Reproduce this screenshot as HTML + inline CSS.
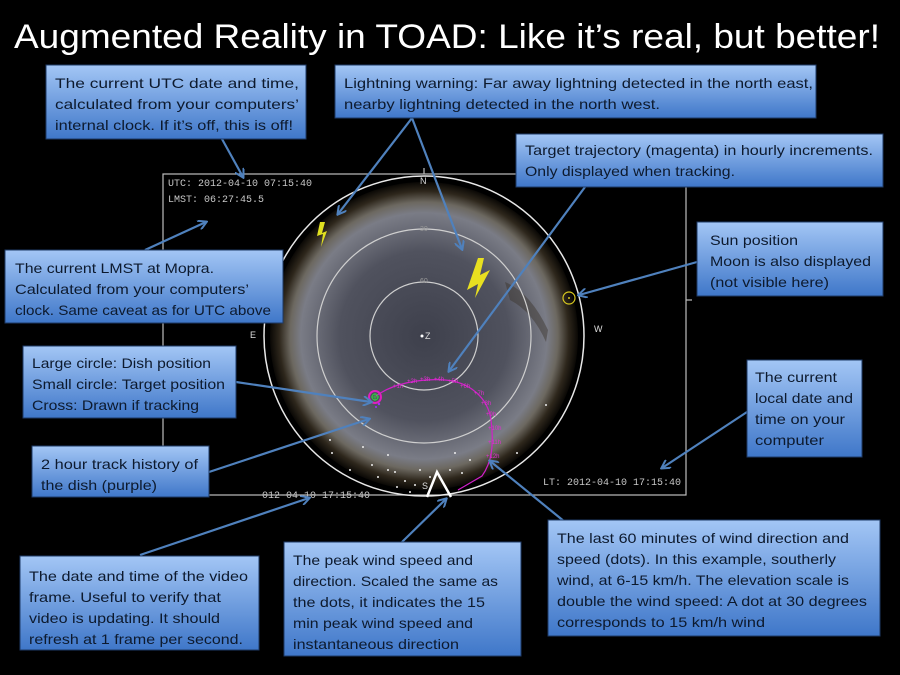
<!DOCTYPE html>
<html><head><meta charset="utf-8">
<style>
html,body{margin:0;padding:0;background:#000;}
svg{display:block;}
.bt{font-family:"Liberation Sans",sans-serif;font-size:14px;fill:#0d1a2e;}
.ft{font-family:"Liberation Mono",monospace;font-size:10px;fill:#c8c8c8;}
</style></head>
<body>
<svg width="900" height="675" viewBox="0 0 900 675" xmlns="http://www.w3.org/2000/svg">
<defs>
<linearGradient id="box" x1="0" y1="0" x2="0" y2="1">
<stop offset="0" stop-color="#a3c6f5"/><stop offset="1" stop-color="#3f77c9"/>
</linearGradient>
<radialGradient id="sky" cx="0.5" cy="0.5" r="0.5">
<stop offset="0" stop-color="#3e404c"/><stop offset="0.55" stop-color="#50525e"/>
<stop offset="0.8" stop-color="#7a7c86"/><stop offset="0.87" stop-color="#6c6860"/>
<stop offset="0.94" stop-color="#2e271c"/><stop offset="1" stop-color="#0a0805"/>
</radialGradient>
<marker id="ah" markerWidth="10" markerHeight="10" refX="8" refY="5" orient="auto" markerUnits="userSpaceOnUse">
<path d="M0,0 L9,5 L0,10" fill="none" stroke="#4f81bd" stroke-width="2"/>
</marker>
</defs>

<text x="14" y="48" fill="#fff" font-family="Liberation Sans,sans-serif" font-size="34" textLength="866" lengthAdjust="spacingAndGlyphs">Augmented Reality in TOAD: Like it’s real, but better!</text>

<g stroke="#bdbdbd" stroke-width="1.2" fill="none">
<rect x="163" y="174" width="523" height="321"/>
<line x1="686" y1="300" x2="692" y2="300"/>
<line x1="424" y1="174" x2="424" y2="168"/>
</g>
<circle cx="424" cy="336" r="154" fill="url(#sky)"/>
<path d="M505,282 Q530,292 548,330 L546,342 Q533,312 510,300 Z" fill="#3a342a" opacity="0.45"/>
<g fill="none" stroke="#e8e8e8">
<circle cx="424" cy="336" r="160" stroke-width="1.5"/>
<circle cx="424" cy="336" r="107" stroke-width="1.2" stroke="#cfcfcf"/>
<circle cx="424" cy="336" r="54" stroke-width="1.2" stroke="#cfcfcf"/>
</g>
<g font-family="Liberation Sans,sans-serif" font-size="9" fill="#ddd">
<text x="420" y="184">N</text>
<text x="250" y="338">E</text>
<text x="594" y="332">W</text>
<text x="420" y="231" fill="#999" font-size="7">30</text>
<text x="420" y="283" fill="#999" font-size="7">60</text>
<circle cx="422" cy="336" r="1.5" fill="#fff"/>
<text x="425" y="339">Z</text>
<text x="422" y="489">S</text>
</g>
<text class="ft" x="168" y="186">UTC: 2012-04-10 07:15:40</text>
<text class="ft" x="168" y="202">LMST: 06:27:45.5</text>
<text class="ft" x="543" y="485" font-size="10.5">LT: 2012-04-10 17:15:40</text>
<text class="ft" x="262" y="498" font-size="7">012-04-10 17:15:40</text>

<path d="M320,222 L317,236 L323,234 L321,247 L327,231 L322,233 L325,222 Z" fill="#e0e020"/>
<path d="M478,258 L467,290 L478,284 L475,298 L490,270 L480,275 L484,258 Z" fill="#e8e020"/>
<circle cx="569" cy="298" r="6" fill="none" stroke="#d8c820" stroke-width="1.2"/>
<circle cx="569" cy="298" r="1" fill="#d8c820"/>

<path d="M376,396 C392,384 420,378 445,380 C470,382 488,398 491,420 C494,445 492,462 482,476 L458,490" fill="none" stroke="#d020c8" stroke-width="1.2"/>
<g font-family="Liberation Sans,sans-serif" font-size="6" fill="#e030d0">
<text x="393" y="388">+1h</text><text x="407" y="383">+2h</text><text x="420" y="381">+3h</text><text x="434" y="381">+4h</text><text x="448" y="383">+5h</text><text x="460" y="388">+6h</text><text x="474" y="395">+7h</text><text x="481" y="405">+8h</text><text x="486" y="416">+9h</text><text x="488" y="430">+10h</text><text x="488" y="444">+11h</text><text x="486" y="458">+12h</text>
</g>
<circle cx="375" cy="397" r="6" fill="none" stroke="#e020c0" stroke-width="2"/>
<circle cx="375" cy="397" r="3" fill="none" stroke="#30d040" stroke-width="1"/>
<path d="M371,397 H379 M375,393 V401" stroke="#30d040" stroke-width="0.8"/>
<circle cx="379" cy="404" r="1.2" fill="#a030ff"/><circle cx="376" cy="407" r="1" fill="#a030ff"/>
<g fill="#eee">
<circle cx="363" cy="447" r="1"/><circle cx="332" cy="453" r="1"/><circle cx="372" cy="465" r="1"/><circle cx="388" cy="470" r="1"/><circle cx="395" cy="472" r="1"/><circle cx="378" cy="477" r="1"/><circle cx="405" cy="481" r="1"/><circle cx="415" cy="485" r="1"/><circle cx="397" cy="487" r="1"/><circle cx="455" cy="453" r="1"/><circle cx="450" cy="470" r="1"/><circle cx="462" cy="473" r="1"/><circle cx="470" cy="460" r="1"/><circle cx="420" cy="470" r="1"/><circle cx="350" cy="470" r="1"/><circle cx="330" cy="440" r="1"/><circle cx="388" cy="455" r="1"/><circle cx="410" cy="492" r="1"/><circle cx="546" cy="405" r="1"/><circle cx="517" cy="453" r="1"/><circle cx="430" cy="477" r="1"/>
</g>
<path d="M427,497 L437,472 L451,497" fill="none" stroke="#fff" stroke-width="2.5"/>

<g stroke="#4f81bd" stroke-width="2.2" marker-end="url(#ah)" fill="none">
<line x1="222" y1="139" x2="243" y2="177"/>
<line x1="412" y1="118" x2="338" y2="214"/>
<line x1="412" y1="118" x2="462" y2="249"/>
<line x1="585" y1="187" x2="449" y2="371"/>
<line x1="697" y1="262" x2="579" y2="295"/>
<line x1="145" y1="250" x2="206" y2="222"/>
<line x1="236" y1="382" x2="371" y2="402"/>
<line x1="209" y1="472" x2="369" y2="419"/>
<line x1="747" y1="412" x2="662" y2="468"/>
<line x1="140" y1="555" x2="309" y2="498"/>
<line x1="402" y1="542" x2="446" y2="499"/>
<line x1="565" y1="522" x2="490" y2="461"/>
</g>

<g stroke="#1e3a66" stroke-width="1">
<rect x="46" y="65" width="260" height="74" fill="url(#box)"/>
<rect x="335" y="65" width="481" height="53" fill="url(#box)"/>
<rect x="516" y="134" width="367" height="53" fill="url(#box)"/>
<rect x="697" y="222" width="186" height="74" fill="url(#box)"/>
<rect x="5" y="250" width="278" height="73" fill="url(#box)"/>
<rect x="23" y="346" width="213" height="72" fill="url(#box)"/>
<rect x="32" y="446" width="177" height="51" fill="url(#box)"/>
<rect x="747" y="360" width="115" height="97" fill="url(#box)"/>
<rect x="20" y="556" width="239" height="94" fill="url(#box)"/>
<rect x="284" y="542" width="237" height="114" fill="url(#box)"/>
<rect x="548" y="520" width="332" height="116" fill="url(#box)"/>
</g>
<g class="bt">
<text x="55" y="88" textLength="244" lengthAdjust="spacingAndGlyphs">The current UTC date and time,</text>
<text x="55" y="109" textLength="244" lengthAdjust="spacingAndGlyphs">calculated from your computers’</text>
<text x="55" y="130" textLength="238" lengthAdjust="spacingAndGlyphs">internal clock. If it’s off, this is off!</text>

<text x="344" y="88" textLength="469" lengthAdjust="spacingAndGlyphs">Lightning warning: Far away lightning detected in the north east,</text>
<text x="344" y="109" textLength="316" lengthAdjust="spacingAndGlyphs">nearby lightning detected in the north west.</text>

<text x="525" y="155" textLength="348" lengthAdjust="spacingAndGlyphs">Target trajectory (magenta) in hourly increments.</text>
<text x="525" y="176" textLength="210" lengthAdjust="spacingAndGlyphs">Only displayed when tracking.</text>

<text x="710" y="245" textLength="88" lengthAdjust="spacingAndGlyphs">Sun position</text>
<text x="710" y="266" textLength="161" lengthAdjust="spacingAndGlyphs">Moon is also displayed</text>
<text x="710" y="287" textLength="119" lengthAdjust="spacingAndGlyphs">(not visible here)</text>

<text x="15" y="273" textLength="199" lengthAdjust="spacingAndGlyphs">The current LMST at Mopra.</text>
<text x="15" y="294" textLength="234" lengthAdjust="spacingAndGlyphs">Calculated from your computers’</text>
<text x="15" y="315" textLength="256" lengthAdjust="spacingAndGlyphs">clock. Same caveat as for UTC above</text>

<text x="32" y="368" textLength="179" lengthAdjust="spacingAndGlyphs">Large circle: Dish position</text>
<text x="32" y="389" textLength="193" lengthAdjust="spacingAndGlyphs">Small circle: Target position</text>
<text x="32" y="410" textLength="167" lengthAdjust="spacingAndGlyphs">Cross: Drawn if tracking</text>

<text x="41" y="469" textLength="157" lengthAdjust="spacingAndGlyphs">2 hour track history of</text>
<text x="41" y="490" textLength="116" lengthAdjust="spacingAndGlyphs">the dish (purple)</text>

<text x="755" y="382" textLength="82" lengthAdjust="spacingAndGlyphs">The current</text>
<text x="755" y="403" textLength="98" lengthAdjust="spacingAndGlyphs">local date and</text>
<text x="755" y="424" textLength="90" lengthAdjust="spacingAndGlyphs">time on your</text>
<text x="755" y="445" textLength="69" lengthAdjust="spacingAndGlyphs">computer</text>

<text x="29" y="581" textLength="219" lengthAdjust="spacingAndGlyphs">The date and time of the video</text>
<text x="29" y="602" textLength="192" lengthAdjust="spacingAndGlyphs">frame. Useful to verify that</text>
<text x="29" y="623" textLength="191" lengthAdjust="spacingAndGlyphs">video is updating. It should</text>
<text x="29" y="644" textLength="214" lengthAdjust="spacingAndGlyphs">refresh at 1 frame per second.</text>

<text x="293" y="565" textLength="180" lengthAdjust="spacingAndGlyphs">The peak wind speed and</text>
<text x="293" y="586" textLength="205" lengthAdjust="spacingAndGlyphs">direction. Scaled the same as</text>
<text x="293" y="607" textLength="192" lengthAdjust="spacingAndGlyphs">the dots, it indicates the 15</text>
<text x="293" y="628" textLength="180" lengthAdjust="spacingAndGlyphs">min peak wind speed and</text>
<text x="293" y="649" textLength="166" lengthAdjust="spacingAndGlyphs">instantaneous direction</text>

<text x="557" y="543" textLength="292" lengthAdjust="spacingAndGlyphs">The last 60 minutes of wind direction and</text>
<text x="557" y="564" textLength="279" lengthAdjust="spacingAndGlyphs">speed (dots). In this example, southerly</text>
<text x="557" y="585" textLength="292" lengthAdjust="spacingAndGlyphs">wind, at 6-15 km/h. The elevation scale is</text>
<text x="557" y="606" textLength="310" lengthAdjust="spacingAndGlyphs">double the wind speed: A dot at 30 degrees</text>
<text x="557" y="627" textLength="208" lengthAdjust="spacingAndGlyphs">corresponds to 15 km/h wind</text>
</g>
</svg>
</body></html>
